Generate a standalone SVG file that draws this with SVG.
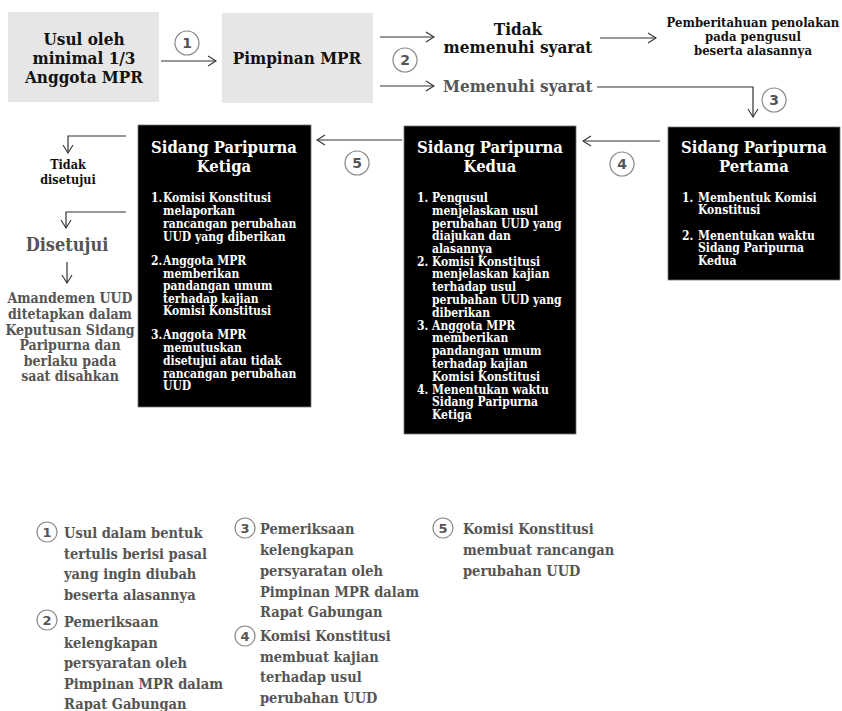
<svg xmlns="http://www.w3.org/2000/svg" width="842" height="711" viewBox="0 0 842 711">
<style>
text{font-family:"DejaVu Serif Condensed","DejaVu Serif","Liberation Serif",serif;font-stretch:condensed;font-weight:bold}
.k{fill:#111}
.g{fill:#555}
.w{fill:#fff}
.c{text-anchor:middle}
.t1{font-size:17px}
.t2{font-size:16.5px}
.sm{font-size:12.5px}
.pm{font-size:13px}
.bt{font-size:12px}
.lg{font-size:14.5px}
.am{font-size:14px}
.ln{stroke:#333;stroke-width:1.2;fill:none}
.cir{fill:#fff;stroke:#888;stroke-width:1.2}
.num{font-family:"DejaVu Sans",sans-serif;font-stretch:normal;font-size:14px;fill:#555;text-anchor:middle}
</style>
<defs>
<marker id="ah" viewBox="0 0 10 12" refX="9" refY="6" markerWidth="10" markerHeight="12" markerUnits="userSpaceOnUse" orient="auto">
<path d="M1,1 L9,6 L1,11" fill="none" stroke="#333" stroke-width="1.1"/>
</marker>
</defs>
<rect width="842" height="711" fill="#fff"/>

<g id="usul">
<rect x="8" y="12" width="151" height="90" fill="#e6e6e6"/>
<text class="k c t1" x="84" y="45">Usul oleh</text>
<text class="k c t1" x="84" y="64">minimal 1/3</text>
<text class="k c t1" x="84" y="83">Anggota MPR</text>
</g>

<g id="pimpinan">
<rect x="222" y="13" width="151" height="90" fill="#e6e6e6"/>
<text class="k c t1" x="297" y="64">Pimpinan MPR</text>
</g>

<g id="tidak-memenuhi">
<text class="k c t1" x="518" y="35">Tidak</text>
<text class="k c t1" x="518" y="53">memenuhi syarat</text>
</g>

<g id="pemberitahuan">
<text class="k c pm" x="753" y="27">Pemberitahuan penolakan</text>
<text class="k c pm" x="753" y="41">pada pengusul</text>
<text class="k c pm" x="753" y="55">beserta alasannya</text>
</g>

<g id="memenuhi">
<text class="g t1" x="443" y="92">Memenuhi syarat</text>
</g>

<g id="sp1">
<rect x="668" y="127" width="172" height="153" fill="#000" stroke="#777" stroke-width="0.8"/>
<text class="w c t2" x="754" y="153">Sidang Paripurna</text>
<text class="w c t2" x="754" y="172">Pertama</text>
<text class="w bt" x="682" y="202">1.</text>
<text class="w bt" x="698" y="202">Membentuk Komisi</text>
<text class="w bt" x="698" y="214">Konstitusi</text>
<text class="w bt" x="682" y="240">2.</text>
<text class="w bt" x="698" y="240">Menentukan waktu</text>
<text class="w bt" x="698" y="252">Sidang Paripurna</text>
<text class="w bt" x="698" y="265">Kedua</text>
</g>

<g id="sp2">
<rect x="404" y="126" width="172" height="308" fill="#000" stroke="#777" stroke-width="0.8"/>
<text class="w c t2" x="490" y="153">Sidang Paripurna</text>
<text class="w c t2" x="490" y="172">Kedua</text>
<text class="w bt" x="417" y="202">1.</text>
<text class="w bt" x="432" y="202">Pengusul</text>
<text class="w bt" x="432" y="215">menjelaskan usul</text>
<text class="w bt" x="432" y="228">perubahan UUD yang</text>
<text class="w bt" x="432" y="240">diajukan dan</text>
<text class="w bt" x="432" y="253">alasannya</text>
<text class="w bt" x="417" y="266">2.</text>
<text class="w bt" x="432" y="266">Komisi Konstitusi</text>
<text class="w bt" x="432" y="278">menjelaskan kajian</text>
<text class="w bt" x="432" y="291">terhadap usul</text>
<text class="w bt" x="432" y="304">perubahan UUD yang</text>
<text class="w bt" x="432" y="317">diberikan</text>
<text class="w bt" x="417" y="330">3.</text>
<text class="w bt" x="432" y="330">Anggota MPR</text>
<text class="w bt" x="432" y="342">memberikan</text>
<text class="w bt" x="432" y="355">pandangan umum</text>
<text class="w bt" x="432" y="368">terhadap kajian</text>
<text class="w bt" x="432" y="381">Komisi Konstitusi</text>
<text class="w bt" x="417" y="394">4.</text>
<text class="w bt" x="432" y="394">Menentukan waktu</text>
<text class="w bt" x="432" y="406">Sidang Paripurna</text>
<text class="w bt" x="432" y="419">Ketiga</text>
</g>

<g id="sp3">
<rect x="138" y="125" width="173" height="282" fill="#000" stroke="#777" stroke-width="0.8"/>
<text class="w c t2" x="224" y="153">Sidang Paripurna</text>
<text class="w c t2" x="224" y="172">Ketiga</text>
<text class="w bt" x="151" y="202">1.</text>
<text class="w bt" x="163" y="202">Komisi Konstitusi</text>
<text class="w bt" x="163" y="215">melaporkan</text>
<text class="w bt" x="163" y="228">rancangan perubahan</text>
<text class="w bt" x="163" y="241">UUD yang diberikan</text>
<text class="w bt" x="151" y="265">2.</text>
<text class="w bt" x="163" y="265">Anggota MPR</text>
<text class="w bt" x="163" y="278">memberikan</text>
<text class="w bt" x="163" y="290">pandangan umum</text>
<text class="w bt" x="163" y="303">terhadap kajian</text>
<text class="w bt" x="163" y="315">Komisi Konstitusi</text>
<text class="w bt" x="151" y="339">3.</text>
<text class="w bt" x="163" y="339">Anggota MPR</text>
<text class="w bt" x="163" y="352">memutuskan</text>
<text class="w bt" x="163" y="365">disetujui atau tidak</text>
<text class="w bt" x="163" y="378">rancangan perubahan</text>
<text class="w bt" x="163" y="390">UUD</text>
</g>

<g id="tidak-disetujui">
<text class="k c sm" x="68" y="169">Tidak</text>
<text class="k c sm" x="68" y="184">disetujui</text>
</g>

<g id="disetujui">
<text class="g c" style="font-size:18px" x="67" y="251">Disetujui</text>
</g>

<g id="amandemen">
<text class="g c am" x="70" y="303">Amandemen UUD</text>
<text class="g c am" x="70" y="319">ditetapkan dalam</text>
<text class="g c am" x="70" y="335">Keputusan Sidang</text>
<text class="g c am" x="70" y="350">Paripurna dan</text>
<text class="g c am" x="70" y="366">berlaku pada</text>
<text class="g c am" x="70" y="381">saat disahkan</text>
</g>

<g id="connectors">
<line class="ln" x1="161" y1="61" x2="216" y2="61" marker-end="url(#ah)"/>
<line class="ln" x1="380" y1="37" x2="434" y2="37" marker-end="url(#ah)"/>
<line class="ln" x1="380" y1="86" x2="434" y2="86" marker-end="url(#ah)"/>
<line class="ln" x1="600" y1="38" x2="656" y2="38" marker-end="url(#ah)"/>
<polyline class="ln" points="597,87 753,87 753,117" marker-end="url(#ah)"/>
<line class="ln" x1="660" y1="141" x2="583" y2="141" marker-end="url(#ah)"/>
<line class="ln" x1="402" y1="140" x2="317" y2="140" marker-end="url(#ah)"/>
<polyline class="ln" points="126,136 68,136 68,153" marker-end="url(#ah)"/>
<polyline class="ln" points="126,212 66,212 66,228" marker-end="url(#ah)"/>
<line class="ln" x1="67" y1="262" x2="67" y2="283" marker-end="url(#ah)"/>
</g>

<g id="step-markers">
<circle class="cir" cx="187" cy="43" r="12"/><text class="num" x="187" y="48">1</text>
<circle class="cir" cx="405" cy="60" r="12"/><text class="num" x="405" y="65">2</text>
<circle class="cir" cx="774" cy="100" r="12"/><text class="num" x="774" y="105">3</text>
<circle class="cir" cx="622" cy="164" r="12"/><text class="num" x="622" y="169">4</text>
<circle class="cir" cx="357" cy="163" r="12"/><text class="num" x="357" y="168">5</text>
</g>

<g id="legend">
<circle class="cir" cx="47" cy="532" r="10"/><text class="num" x="47" y="537" style="font-size:13px">1</text>
<text class="g lg" x="64" y="538">Usul dalam bentuk</text>
<text class="g lg" x="64" y="559">tertulis berisi pasal</text>
<text class="g lg" x="64" y="579">yang ingin diubah</text>
<text class="g lg" x="64" y="600">beserta alasannya</text>

<circle class="cir" cx="47" cy="620" r="10"/><text class="num" x="47" y="625" style="font-size:13px">2</text>
<text class="g lg" x="64" y="627">Pemeriksaan</text>
<text class="g lg" x="64" y="648">kelengkapan</text>
<text class="g lg" x="64" y="668">persyaratan oleh</text>
<text class="g lg" x="64" y="689">Pimpinan MPR dalam</text>
<text class="g lg" x="64" y="709">Rapat Gabungan</text>

<circle class="cir" cx="245" cy="528" r="10"/><text class="num" x="245" y="533" style="font-size:13px">3</text>
<text class="g lg" x="260" y="534">Pemeriksaan</text>
<text class="g lg" x="260" y="555">kelengkapan</text>
<text class="g lg" x="260" y="576">persyaratan oleh</text>
<text class="g lg" x="260" y="597">Pimpinan MPR dalam</text>
<text class="g lg" x="260" y="617">Rapat Gabungan</text>

<circle class="cir" cx="245" cy="636" r="10"/><text class="num" x="245" y="641" style="font-size:13px">4</text>
<text class="g lg" x="260" y="641">Komisi Konstitusi</text>
<text class="g lg" x="260" y="662">membuat kajian</text>
<text class="g lg" x="260" y="682">terhadap usul</text>
<text class="g lg" x="260" y="703">perubahan UUD</text>

<circle class="cir" cx="443" cy="528" r="10"/><text class="num" x="443" y="533" style="font-size:13px">5</text>
<text class="g lg" x="463" y="534">Komisi Konstitusi</text>
<text class="g lg" x="463" y="555">membuat rancangan</text>
<text class="g lg" x="463" y="576">perubahan UUD</text>
</g>
</svg>
